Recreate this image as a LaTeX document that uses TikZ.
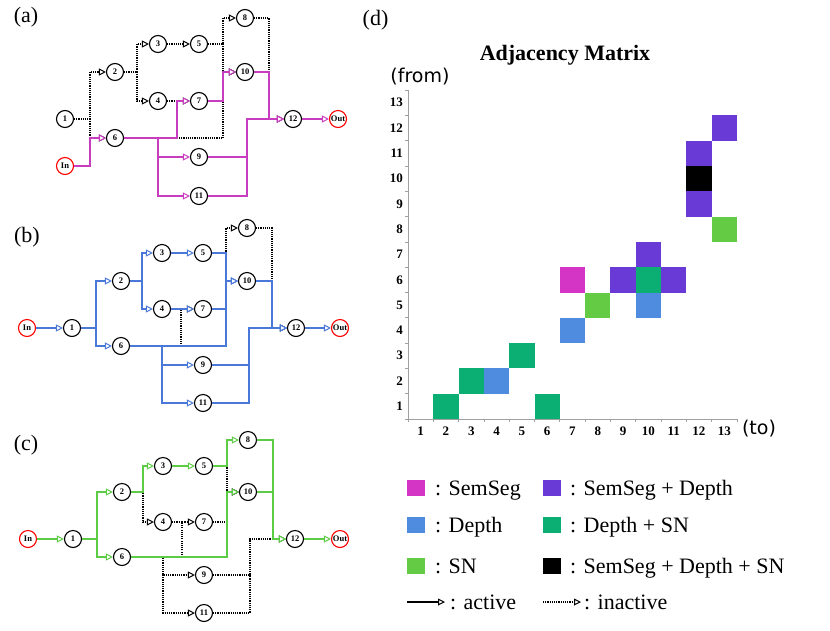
\documentclass[tikz,border=0pt]{standalone}
\usepackage{fontspec}
\setmainfont{Liberation Serif}
\newfontfamily\axfont{DejaVu Sans}
\usetikzlibrary{arrows.meta}
\definecolor{cSem}{HTML}{D535C5}
\definecolor{cDep}{HTML}{4F8BDE}
\definecolor{cSN}{HTML}{63CC44}
\definecolor{cSD}{HTML}{6A3AD6}
\definecolor{cDS}{HTML}{0BAE73}
\definecolor{lnA}{HTML}{C83CC0}
\definecolor{lnB}{HTML}{4A78D8}
\definecolor{lnC}{HTML}{5CCC44}
\definecolor{axgray}{HTML}{A0A0A0}
\tikzset{
  nd/.style={circle, draw=black, line width=1.1pt, fill=white, minimum size=17pt, inner sep=0pt, font=\fontsize{8.5}{9}\selectfont\bfseries},
  io/.style={nd, draw=red},
  tip/.style={-{Triangle[length=7pt, width=7pt, fill=white, line width=1pt]}},
  act/.style={tip, line width=1.2pt, draw=#1},
  dotln/.style={line width=1.1pt, draw=black, dash pattern=on 1.1pt off 1.1pt},
  ina/.style={tip, dotln},
  plab/.style={font=\fontsize{22}{24}\selectfont},
  sw/.style={fill=#1, draw=none, minimum width=18pt, minimum height=16pt, inner sep=0pt},
  legt/.style={anchor=base west, inner sep=0pt, font=\fontsize{22}{24}\selectfont},
  axn/.style={font=\fontsize{13}{14}\selectfont\bfseries, inner sep=0pt}
}
\begin{document}
\begin{tikzpicture}[x=1pt, y=-1pt]
\useasboundingbox[fill=white] (0,0) rectangle (830,630);

% ---------------- (a) ----------------
\node[plab] (la) at (26,17) {(a)};
\node[nd] (a1) at (65,119) {1};
\node[io] (aIn) at (65,166) {In};
\node[nd] (a2) at (115,72) {2};
\node[nd] (a6) at (115,138) {6};
\node[nd] (a3) at (158,44) {3};
\node[nd] (a4) at (158,101) {4};
\node[nd] (a5) at (199,44) {5};
\node[nd] (a7) at (199,101) {7};
\node[nd] (a8) at (245,18) {8};
\node[nd] (a10) at (245,72) {10};
\node[nd] (a9) at (199,157) {9};
\node[nd] (a11) at (199,196) {11};
\node[nd] (a12) at (293,119) {12};
\node[io] (aOut) at (338,119) {Out};
\coordinate (ja1) at (90,0 |- a1);
\coordinate (ja2) at (137,0 |- a2);
\coordinate (ja4) at (223,0 |- a5);
% inactive
\draw[ina] (a1) -- (ja1) |- (a2);
\draw[ina] (ja1) |- (a6);
\draw[ina] (a2) -- (ja2) |- (a3);
\draw[ina] (ja2) |- (a4);
\draw[ina] (a3) -- (a5);
\draw[ina] (a4) -- (a7);
\draw[ina] (a5) -- (ja4) |- (a8);
\draw[ina] (ja4) |- (a10);
\draw[ina] (a6) -- (223,0 |- a6) |- (a10);
\draw[ina] (a8) -- (269,0 |- a8) |- (a12);
% active
\draw[act=lnA] (aIn) -- (90,0 |- aIn) |- (a6);
\draw[act=lnA] (a6) -- (177,0 |- a6) |- (a7);
\draw[act=lnA] (a7) -- (223,0 |- a7) |- (a10);
\draw[act=lnA] (a6) -- (158,0 |- a6) |- (a9);
\draw[act=lnA] (a6) -- (158,0 |- a6) |- (a11);
\draw[act=lnA] (a10) -- (269,0 |- a10) |- (a12);
\draw[act=lnA] (a9) -- (247,0 |- a9) |- (a12);
\draw[act=lnA] (a11) -- (247,0 |- a11) |- (a12);
\draw[act=lnA] (a12) -- (aOut);

% ---------------- (b) ----------------
\node[plab] (lb) at (27,237) {(b)};
\node[io] (bIn) at (27,328) {In};
\node[nd] (b1) at (72,328) {1};
\node[nd] (b2) at (121,281) {2};
\node[nd] (b6) at (121,346) {6};
\node[nd] (b3) at (162,253) {3};
\node[nd] (b4) at (162,309) {4};
\node[nd] (b5) at (203,253) {5};
\node[nd] (b7) at (203,309) {7};
\node[nd] (b8) at (247,228) {8};
\node[nd] (b10) at (247,281) {10};
\node[nd] (b9) at (203,365) {9};
\node[nd] (b11) at (203,403) {11};
\node[nd] (b12) at (296,328) {12};
\node[io] (bOut) at (340,328) {Out};
% inactive
\draw[ina] (b5) -- (226,0 |- b5) |- (b8);
\draw[ina] (b6) -- (181,0 |- b6) |- (b7);
\draw[ina] (b8) -- (272,0 |- b8) |- (b12);
% active
\draw[act=lnB] (bIn) -- (b1);
\draw[act=lnB] (b1) -- (96,0 |- b1) |- (b2);
\draw[act=lnB] (b1) -- (96,0 |- b1) |- (b6);
\draw[act=lnB] (b2) -- (142,0 |- b2) |- (b3);
\draw[act=lnB] (b2) -- (142,0 |- b2) |- (b4);
\draw[act=lnB] (b3) -- (b5);
\draw[act=lnB] (b4) -- (b7);
\draw[act=lnB] (b5) -- (226,0 |- b5) |- (b10);
\draw[act=lnB] (b7) -- (226,0 |- b7) |- (b10);
\draw[act=lnB] (b6) -- (226,0 |- b6) |- (b10);
\draw[act=lnB] (b6) -- (162,0 |- b6) |- (b9);
\draw[act=lnB] (b6) -- (162,0 |- b6) |- (b11);
\draw[act=lnB] (b10) -- (272,0 |- b10) |- (b12);
\draw[act=lnB] (b9) -- (249,0 |- b9) |- (b12);
\draw[act=lnB] (b11) -- (249,0 |- b11) |- (b12);
\draw[act=lnB] (b12) -- (bOut);

% ---------------- (c) ----------------
\node[plab] (lc) at (26,445) {(c)};
\node[io] (cIn) at (28,539) {In};
\node[nd] (c1) at (73,539) {1};
\node[nd] (c2) at (122,492) {2};
\node[nd] (c6) at (122,557) {6};
\node[nd] (c3) at (163,466) {3};
\node[nd] (c4) at (163,522) {4};
\node[nd] (c5) at (204,466) {5};
\node[nd] (c7) at (204,522) {7};
\node[nd] (c8) at (248,440) {8};
\node[nd] (c10) at (248,492) {10};
\node[nd] (c9) at (204,575) {9};
\node[nd] (c11) at (204,613) {11};
\node[nd] (c12) at (295,539) {12};
\node[io] (cOut) at (340,539) {Out};
\coordinate (jc3) at (182,0 |- c6);
\coordinate (jc3b) at (182,0 |- c7);
\coordinate (jc6) at (163,0 |- c9);
\coordinate (jc7) at (250,0 |- c9);
% inactive
\draw[ina] (c2) -- (143,0 |- c2) |- (c4);
\draw[dotln] (c4) -- (jc3b);
\draw[ina] (jc3) |- (c7);
\draw[ina] (c5) -- (227,0 |- c5) |- (c10);
\draw[ina] (c7) -- (227,0 |- c7) |- (c10);
\draw[ina] (c6) -- (163,0 |- c6) |- (c9);
\draw[ina] (jc6) |- (c11);
\draw[ina] (c9) -- (jc7) |- (c12);
\draw[dotln] (c11) -| (jc7);
% active
\draw[act=lnC] (cIn) -- (c1);
\draw[act=lnC] (c1) -- (97,0 |- c1) |- (c2);
\draw[act=lnC] (c1) -- (97,0 |- c1) |- (c6);
\draw[act=lnC] (c2) -- (143,0 |- c2) |- (c3);
\draw[act=lnC] (c3) -- (c5);
\draw[act=lnC] (c5) -- (227,0 |- c5) |- (c8);
\draw[act=lnC] (c6) -- (227,0 |- c6) |- (c10);
\draw[act=lnC] (c8) -- (273,0 |- c8) |- (c12);
\draw[act=lnC] (c10) -- (273,0 |- c10) |- (c12);
\draw[act=lnC] (c12) -- (cOut);

% ---------------- (d) matrix ----------------
\node[plab] (ld) at (375.5,20) {(d)};
\node[font=\fontsize{22}{24}\selectfont\bfseries] (title) at (565,55) {Adjacency Matrix};
\node[font=\axfont\fontsize{19}{21}\selectfont] (from) at (420,77) {(from)};
\node[font=\axfont\fontsize{19}{21}\selectfont] (to) at (759,429) {(to)};
\def\ox{408}\def\oy{419}\def\cw{25.3}
% cells: (to, from, colour)
\foreach \c/\r/\col in {2/1/cDS, 6/1/cDS, 3/2/cDS, 4/2/cDep, 5/3/cDS, 7/4/cDep, 8/5/cSN, 10/5/cDep, 7/6/cSem, 9/6/cSD, 10/6/cDS, 11/6/cSD, 10/7/cSD, 13/8/cSN, 12/9/cSD, 12/10/black, 12/11/cSD, 13/12/cSD}
  \fill[\col] ({\ox+(\c-1)*\cw},{\oy-(\r-1)*\cw}) rectangle ({\ox+\c*\cw},{\oy-\r*\cw});
% axes
\draw[axgray, line width=0.9pt] (\ox,{\oy-13*\cw}) -- (\ox,\oy) -- ({\ox+13*\cw},\oy);
\foreach \i in {0,...,13} {
  \draw[axgray, line width=0.7pt] ({\ox+\i*\cw},\oy) -- ({\ox+\i*\cw},\oy+3);
  \draw[axgray, line width=0.7pt] (\ox,{\oy-\i*\cw}) -- (\ox-3,{\oy-\i*\cw});
}
\foreach \i in {1,...,13} {
  \node[axn, anchor=east] (yl\i) at (403,{\oy-(\i-0.5)*\cw}) {\i};
  \node[axn] (xl\i) at ({\ox+(\i-0.5)*\cw},431) {\i};
}

% ---------------- legend ----------------
\node[sw=cSem] (s1) at (416,488) {};
\node[legt] (t1) at (435,495) {: SemSeg};
\node[sw=cSD] (s2) at (552,488) {};
\node[legt] (t2) at (570,495) {: SemSeg + Depth};
\node[sw=cDep] (s3) at (416,525) {};
\node[legt] (t3) at (435,532) {: Depth};
\node[sw=cDS] (s4) at (552,525) {};
\node[legt] (t4) at (570,532) {: Depth + SN};
\node[sw=cSN] (s5) at (416,566) {};
\node[legt] (t5) at (435,573) {: SN};
\node[sw=black] (s6) at (552,566) {};
\node[legt] (t6) at (570,573) {: SemSeg + Depth + SN};
\coordinate (la1) at (407,602);
\coordinate (la2) at (445,602);
\node[legt] (t7) at (450,609) {: active};
\coordinate (li1) at (543,602);
\coordinate (li2) at (581,602);
\node[legt] (t8) at (584,609) {: inactive};
\draw[tip, line width=1.5pt, black] (la1) -- (la2);
\draw[ina] (li1) -- (li2);
\end{tikzpicture}
\end{document}
